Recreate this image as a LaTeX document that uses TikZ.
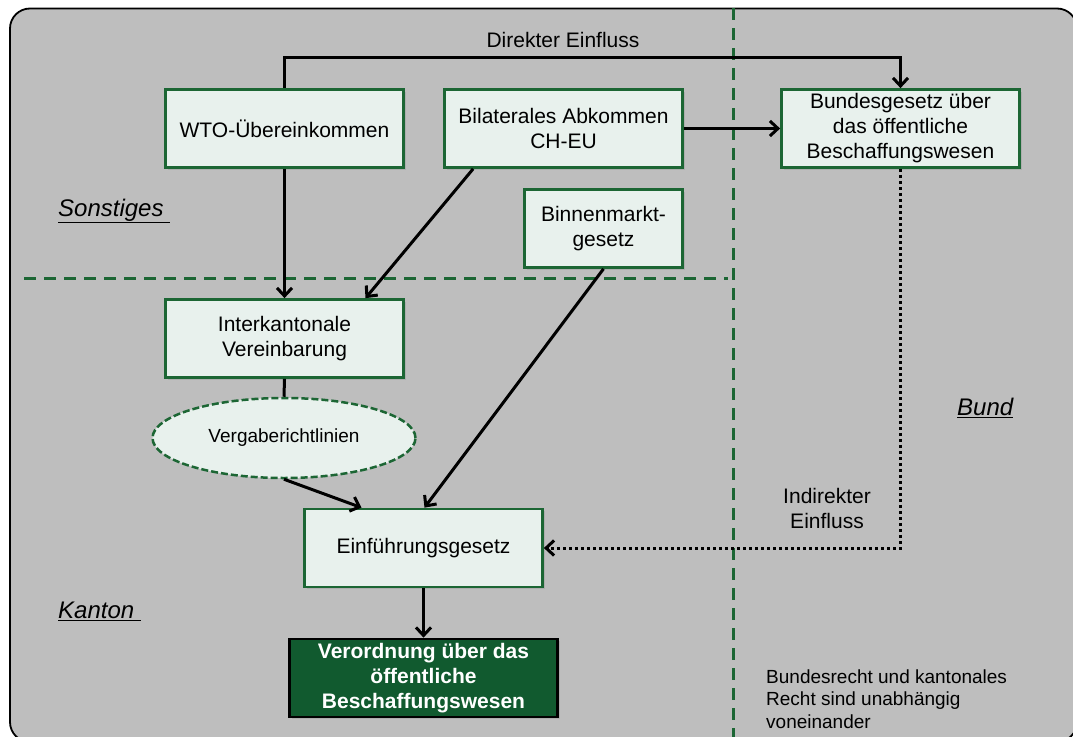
\documentclass[tikz,border=0pt]{standalone}
\usepackage{fontspec}
\setmainfont{Liberation Sans}
\usetikzlibrary{shapes.geometric, arrows.meta, shadows}
\definecolor{PanelGray}{RGB}{190,190,190}
\definecolor{BoxFill}{RGB}{232,241,237}
\definecolor{BoxEdge}{RGB}{28,102,52}
\definecolor{DarkGreen}{RGB}{17,90,47}

\begin{document}
\begin{tikzpicture}[
    x=1pt, y=-1pt,
    >={Straight Barb[length=8pt, width=15pt]},
    law/.style={draw=BoxEdge, line width=2.75pt, fill=BoxFill, minimum width=238pt, minimum height=78pt, align=center, inner sep=2pt, font=\fontsize{21}{25}\selectfont, drop shadow={shadow xshift=2pt, shadow yshift=-2pt, opacity=0.25}},
    guide/.style={ellipse, draw=BoxEdge, line width=2.5pt, dash pattern=on 7pt off 3pt, fill=BoxFill, minimum width=263pt, minimum height=80pt, inner sep=0pt, font=\fontsize{19}{23}\selectfont},
    final/.style={law, draw=black, fill=DarkGreen, text=white, minimum width=268pt, font=\fontsize{21}{25}\selectfont\bfseries},
    region/.style={anchor=west, inner sep=0pt, font=\fontsize{24}{28}\selectfont\itshape},
    note/.style={inner sep=0pt, font=\fontsize{21}{25}\selectfont},
    link/.style={->, line width=3pt},
    sep/.style={draw=BoxEdge, line width=3pt, dash pattern=on 12pt off 8pt}
  ]
    \clip (0,0) rectangle (1073,736);
    % Hintergrund
    \draw[fill=PanelGray, line width=1.8pt, rounded corners=20pt] (10,8.5) rectangle (1077,742);

    % Trennlinien
    \draw[sep] (24,278) -- (728,278);
    \draw[sep] (733,8) -- (733,742);

    % Bereiche
    \node[region] (sonst) at (58,211) {\underline{Sonstiges\ }};
    \node[region] (kanton) at (58,611) {\underline{Kanton\ }};
    \node[region] (bundlbl) at (957,408) {\underline{Bund}};

    % Sonstiges (oben)
    \node[law] (wto) at (284.5,128.5) {WTO-Übereinkommen};
    \node[law] (bilat) at (563.5,128.5) {Bilaterales Abkommen\\CH-EU};
    \node[law, minimum width=158pt] (binnen) at (603.5,228.5) {Binnenmarkt-\\gesetz};

    % Bund (rechts)
    \node[law] (bund) at (900.5,128.5) {Bundesgesetz über\\das öffentliche\\Beschaffungswesen};

    % Kanton (unten)
    \node[law] (inter) at (284.5,338.5) {Interkantonale\\Vereinbarung};
    \node[guide] (vrl) at (284,438) {Vergaberichtlinien};
    \node[law] (einf) at (423.5,548) {Einführungsgesetz};
    \node[final] (vo) at (423.5,678) {Verordnung über das\\öffentliche\\Beschaffungswesen};

    % Texte
    \node[note] (direkt) at (563,40) {Direkter Einfluss};
    \node[note, align=center] (indirekt) at (827,508) {Indirekter\\Einfluss};
    \node[note, anchor=west, align=left, font=\fontsize{19}{22.5}\selectfont] (hinweis) at (766,699) {Bundesrecht und kantonales\\Recht sind unabhängig\\voneinander};

    % Pfeile
    \draw[link] (wto.north) -- ++(0,-31) -| (bund.north);
    \draw[link] (bilat.east) -- (bund.west);
    \draw[link] (wto.south) -- (inter.north);
    \draw[link] ([xshift=30pt]bilat.south west) -- ([xshift=81pt]inter.north);
    \draw[line width=3pt] (inter.south) -- (vrl.north);
    \draw[link] (vrl.south) -- ([xshift=-62pt]einf.north);
    \draw[link] (binnen.south) -- ([xshift=1pt]einf.north);
    \draw[link] (einf.south) -- (vo.north);
    \draw[link, dash pattern=on 3pt off 3pt] (bund.south) |- (einf.east);
  \end{tikzpicture}
\end{document}
